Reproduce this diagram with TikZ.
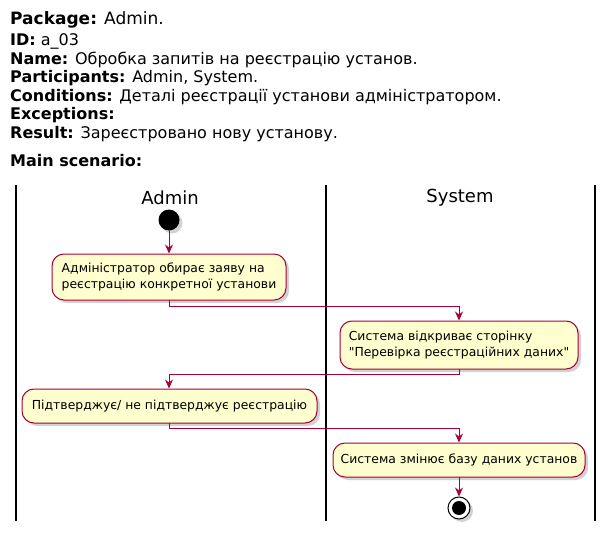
\documentclass[tikz,border=0pt]{standalone}
\usepackage{fontspec}
\setmainfont{DejaVu Sans}[Ligatures=TeXOff]
\usetikzlibrary{arrows.meta,shadows}
\definecolor{boxfill}{HTML}{FEFECE}
\definecolor{boxline}{HTML}{A80036}
\tikzset{
  headline/.style={anchor=base west, inner sep=0pt, font=\fontsize{16}{18}\selectfont},
  lanetitle/.style={font=\fontsize{18}{20}\selectfont},
  action/.style={rounded corners=12pt, draw=boxline, fill=boxfill, line width=1pt,
    drop shadow={shadow xshift=3pt, shadow yshift=-3pt, fill=black!35},
    font=\fontsize{12.4}{15.5}\selectfont, align=left, inner sep=0pt},
  flow/.style={->, draw=boxline, line width=1pt},
  lane/.style={line width=1.5pt, line cap=butt}
}
\begin{document}
\begin{tikzpicture}[x=1pt, y=-1pt, >={Stealth[length=9pt, width=8pt, inset=3pt]}, line cap=round]
\useasboundingbox (0,0) rectangle (614,535);
% опис прецеденту
\node[headline, font=\fontsize{17}{19}\selectfont] (pkg) at (10,25) {\textbf{Package:} Admin.};
\node[headline] (uid) at (10,46) {\textbf{ID:} a\_03};
\node[headline] (uname) at (10,64.5) {\textbf{Name:} Обробка запитів на реєстрацію установ.};
\node[headline] (parts) at (10,83) {\textbf{Participants:} Admin, System.};
\node[headline] (conds) at (10,101.5) {\textbf{Conditions:} Деталі реєстрації установи адміністратором.};
\node[headline] (excs) at (10,120) {\textbf{Exceptions:}};
\node[headline] (res) at (10,138.5) {\textbf{Result:} Зареєстровано нову установу.};
\node[headline] (mains) at (10,167) {\textbf{Main scenario:}};
% доріжки
\draw[lane] (16,185) -- (16,521);
\draw[lane] (326,185) -- (326,521);
\draw[lane] (595,185) -- (595,521);
\node[lanetitle] (ladmin) at (170,198) {Admin};
\node[lanetitle] (lsys) at (460,198) {System};
% дії
\node[circle, fill=black, minimum size=21pt, inner sep=0pt,
  drop shadow={shadow xshift=3pt, shadow yshift=-3pt, fill=black!35}] (start) at (169,220) {};
\node[action, minimum width=234pt, minimum height=46pt] (choose) at (169,277)
  {Адміністратор обирає заяву на\\реєстрацію конкретної установи};
\node[action, minimum width=238pt, minimum height=48pt] (open) at (459,345)
  {Система відкриває сторінку\\"Перевірка реєстраційних даних"};
\node[action, minimum width=295pt, minimum height=34pt] (confirm) at (169.5,406)
  {Підтверджує/ не підтверджує реєстрацію};
\node[action, minimum width=252pt, minimum height=34pt] (update) at (459,460)
  {Система змінює базу даних установ};
\node[circle, draw=black, fill=white, line width=1pt, minimum size=22pt, inner sep=0pt,
  drop shadow={shadow xshift=3pt, shadow yshift=-3pt, fill=black!35}] (stop) at (459,508) {};
\fill (stop) circle (7pt);
% переходи
\draw[flow] (start) -- (choose);
\draw[flow] (choose.south) -- ++(0,6) -| (open.north);
\draw[flow] (open.south) -- ++(0,5) -| (confirm.north -| choose.south);
\draw[flow] (confirm.south -| choose.south) -- ++(0,5) -| (update.north);
\draw[flow] (update) -- (stop);
\end{tikzpicture}
\end{document}
